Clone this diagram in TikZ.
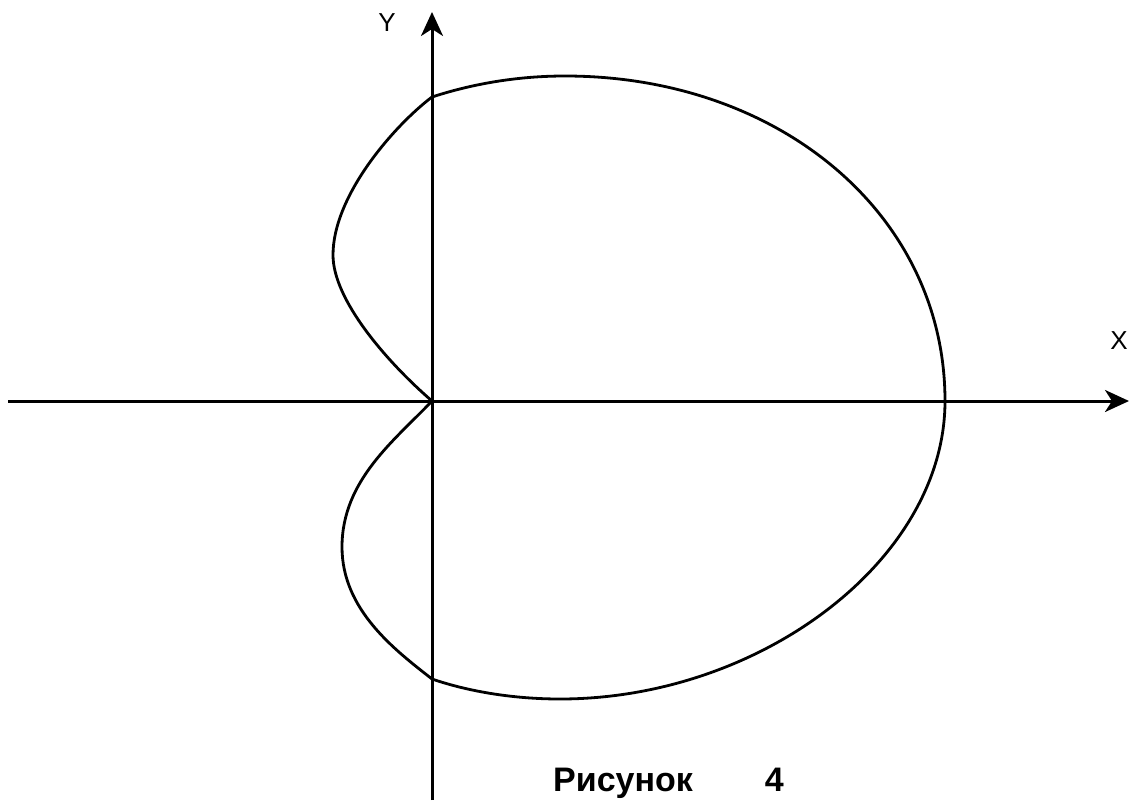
\documentclass[tikz,border=0pt]{standalone}
\usepackage{fontspec}
\setmainfont{Liberation Sans}
\usetikzlibrary{arrows.meta}
\tikzset{
  axisline/.style={line width=3pt, -{Stealth[length=24pt,width=22pt,inset=7pt]}},
  curveline/.style={line width=2.8pt, line join=round},
  axislabel/.style={font=\fontsize{26}{30}\selectfont, inner sep=0pt},
  captionlabel/.style={font=\fontsize{34}{40}\selectfont\bfseries, inner sep=0pt, anchor=base west}
}
\begin{document}
\begin{tikzpicture}[x=1pt,y=-1pt]
\useasboundingbox (0,0) rectangle (1129,800);
\coordinate (xl) at (8,401);
\coordinate (xr) at (1129,401);
\coordinate (yb) at (432,800);
\coordinate (yt) at (432,12);
\coordinate (O) at (432,401);
\coordinate (ytop) at (432,97);
\coordinate (ybot) at (432,679);
\coordinate (lu) at (333,255);
\coordinate (ll) at (342,547);
\coordinate (tmax) at (565,76);
\coordinate (rmax) at (945,401);
\coordinate (bmin) at (560,699);
\draw[axisline] (xl) -- (xr);
\draw[axisline] (yb) -- (yt);
\node[axislabel] (ylab) at (387,23) {Y};
\node[axislabel] (xlab) at (1119,341) {X};
\draw[curveline] (O) .. controls (387,362) and (333,300) .. (lu)
  .. controls (333,195) and (395,125) .. (ytop)
  .. controls (475,83) and (520,76) .. (tmax)
  .. controls (780,76) and (945,215) .. (rmax)
  .. controls (945,560) and (760,699) .. (bmin)
  .. controls (515,699) and (470,692) .. (ybot)
  .. controls (395,650) and (342,610) .. (ll)
  .. controls (342,480) and (395,440) .. (O);
\node[captionlabel] (cap) at (553,791) {Рисунок\hspace{72pt}4};
\end{tikzpicture}
\end{document}
